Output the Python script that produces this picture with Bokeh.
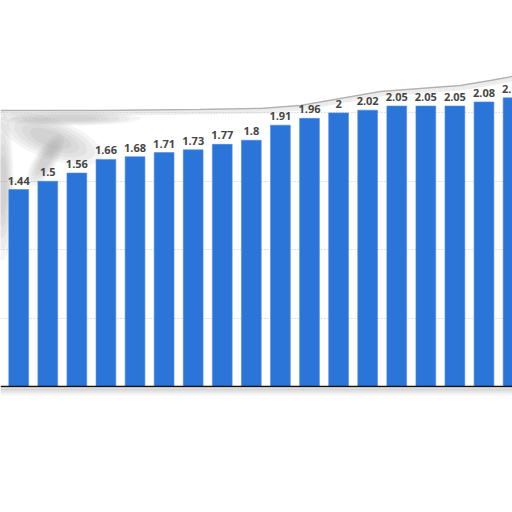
from bokeh.plotting import figure
from bokeh.models import Range1d, Span, FixedTicker, ColumnDataSource, LabelSet
from bokeh.core.properties import value
from bokeh.embed import file_html
from bokeh.resources import INLINE

# ---- data ----
values = [1.44, 1.5, 1.56, 1.66, 1.68, 1.71, 1.73, 1.77, 1.8, 1.91,
          1.96, 2, 2.02, 2.05, 2.05, 2.05, 2.08, 2.11]
labels = ["1.44", "1.5", "1.56", "1.66", "1.68", "1.71", "1.73", "1.77", "1.8",
          "1.91", "1.96", "2", "2.02", "2.05", "2.05", "2.05", "2.08", "2.11"]
positions = list(range(len(values)))
grid_values = [0.5, 1.0, 1.5, 2.0]

# decorative card edge (page pixels) of the photographed chart
edge_px_x = [0, 100, 200, 260, 300, 340, 380, 420, 460, 490, 512]
edge_px_y = [110, 110, 109, 108, 105, 98, 91, 88, 85, 80, 76]
# decorative smudge blobs (page pixels): cx, cy, w, h, angle
smudge_cx = [50, 45, 2, 70]
smudge_cy = [138, 160, 185, 118]
smudge_w = [110, 60, 22, 140]
smudge_h = [40, 22, 150, 14]
smudge_a = [-0.35, 1.0, 0.0, 0.0]

W, H = 512, 512
PITCH = 29.08        # pixels per category
UNIT = 136.8         # pixels per value unit
X0 = 18.2            # pixel of first bar centre inside the frame
BASE = 386           # pixel of baseline inside the frame

x_start = -X0 / PITCH
x_end = x_start + W / PITCH
y_end = BASE / UNIT
y_start = -(H - BASE) / UNIT

p = figure(width=W, height=H, output_backend="svg", toolbar_location=None,
           x_range=Range1d(x_start, x_end), y_range=Range1d(y_start, y_end),
           min_border=0)
p.axis.visible = False
p.xgrid.visible = False
p.ygrid.ticker = FixedTicker(ticks=grid_values)
p.ygrid.grid_line_dash = "1 2"
p.ygrid.grid_line_color = "#c4c4c4"
p.outline_line_color = None
p.background_fill_color = "white"
p.border_fill_color = "white"

def px2x(px):
    return (px - X0) / PITCH

def py2y(py):
    return (BASE - py) / UNIT

# soft smudge in upper left (concentric translucent layers)
for s in [1.0, 0.85, 0.7, 0.55, 0.4]:
    p.ellipse(x=[px2x(v) for v in smudge_cx], y=[py2y(v) for v in smudge_cy],
              width=[w * s for w in smudge_w], height=[h * s for h in smudge_h],
              width_units="screen", height_units="screen",
              angle=smudge_a, fill_color="#7a7a7a", fill_alpha=0.075, line_color=None)

# card top edge with shadow
ex = [px2x(v) for v in edge_px_x]
for k, (col, a) in enumerate([("#bdbdbd", 0.25), ("#c8c8c8", 0.35), ("#a8a8a8", 0.9)]):
    off = (2 - k) * 2.0 / UNIT
    p.line(ex, [py2y(v) - off for v in edge_px_y], line_color=col, line_alpha=a,
           line_width=2 if k < 2 else 1.5)

# shadow under baseline
for k, a in enumerate([0.45, 0.35, 0.25, 0.15, 0.08]):
    yy = -(2.5 + k * 1.5) / UNIT
    p.line([x_start, x_end], [yy, yy], line_color="#9e9e9e", line_alpha=a, line_width=1.6)

src = ColumnDataSource(dict(x=positions, top=values, label=labels))
p.vbar(x="x", top="top", bottom=0, width=0.68, source=src,
       fill_color="#2b75d9", line_color="#4a8ae0", line_width=0.6)

p.add_layout(Span(location=0, dimension="width", line_color="#111111", line_width=1.3))

p.add_layout(LabelSet(x="x", y="top", text="label", source=src, text_align="center",
                      text_baseline="bottom", y_offset=5, text_font=value("Open Sans"),
                      text_font_style="bold", text_font_size="11px",
                      text_color="#454545"))

open("out.html", "w").write(file_html(p, INLINE))
